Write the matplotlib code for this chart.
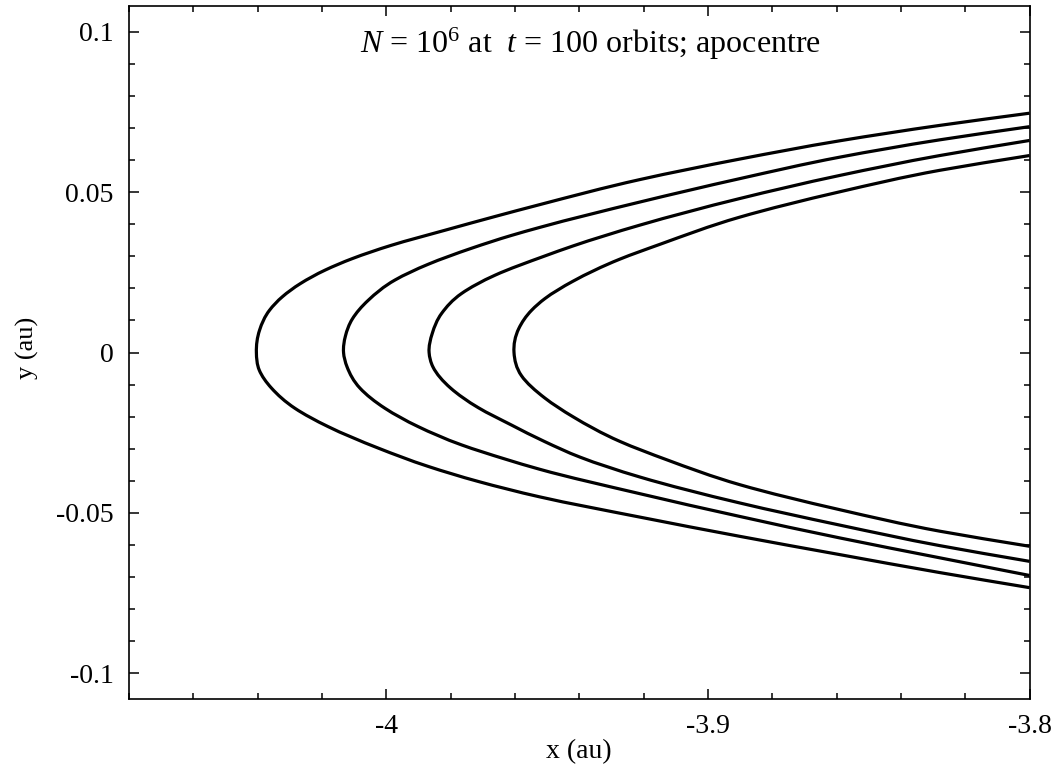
import matplotlib
matplotlib.use("Agg")
import matplotlib.pyplot as plt
from matplotlib.path import Path
from matplotlib.patches import PathPatch
from matplotlib.ticker import MultipleLocator, FuncFormatter

plt.rcParams['font.family'] = ['Liberation Serif', 'DejaVu Serif']
plt.rcParams['mathtext.fontset'] = 'custom'
plt.rcParams['mathtext.rm'] = 'Liberation Serif'
plt.rcParams['mathtext.it'] = 'Liberation Serif:italic'
plt.rcParams['axes.unicode_minus'] = False

# four orbit streams (bottom-right -> apocentre -> top-right)
x1 = [-3.8000, -3.8279, -3.8590, -3.8901, -3.9212, -3.9523, -3.9714, -3.9870, -4.0025, -4.0181,
      -4.0284, -4.0357, -4.0395, -4.0404, -4.0394, -4.0363, -4.0323, -4.0267, -4.0190, -4.0105,
      -3.9985, -3.9818, -3.9662, -3.9523, -3.9212, -3.8901, -3.8590, -3.8279, -3.8000]
y1 = [-0.0733, -0.0686, -0.0630, -0.0573, -0.0513, -0.0450, -0.0402, -0.0355, -0.0298, -0.0231,
      -0.0174, -0.0111, -0.0055, 0.0000, 0.0070, 0.0132, 0.0174, 0.0215, 0.0257, 0.0293,
      0.0334, 0.0381, 0.0424, 0.0461, 0.0539, 0.0603, 0.0660, 0.0708, 0.0746]

x2 = [-3.8000, -3.8279, -3.8590, -3.8901, -3.9212, -3.9523, -3.9631, -3.9766, -3.9901, -4.0004,
      -4.0082, -4.0122, -4.0133, -4.0127, -4.0106, -4.0056, -3.9973, -3.9870, -3.9735, -3.9611,
      -3.9523, -3.9212, -3.8901, -3.8590, -3.8279, -3.8000]
y2 = [-0.0695, -0.0640, -0.0578, -0.0511, -0.0440, -0.0364, -0.0332, -0.0288, -0.0231, -0.0174,
      -0.0111, -0.0045, 0.0000, 0.0052, 0.0104, 0.0163, 0.0226, 0.0275, 0.0325, 0.0365,
      0.0390, 0.0469, 0.0542, 0.0609, 0.0663, 0.0704]

x3 = [-3.8000, -3.8279, -3.8590, -3.8901, -3.9212, -3.9398, -3.9507, -3.9611, -3.9714, -3.9800,
      -3.9855, -3.9867, -3.9857, -3.9828, -3.9766, -3.9662, -3.9507, -3.9420, -3.9212, -3.8901,
      -3.8590, -3.8279, -3.8000]
y3 = [-0.0651, -0.0602, -0.0538, -0.0469, -0.0388, -0.0326, -0.0278, -0.0226, -0.0172, -0.0111,
      -0.0045, 0.0000, 0.0060, 0.0122, 0.0184, 0.0241, 0.0301, 0.0332, 0.0397, 0.0480,
      0.0552, 0.0614, 0.0661]

x4 = [-3.8000, -3.8279, -3.8590, -3.8901, -3.9129, -3.9274, -3.9420, -3.9507, -3.9580, -3.9603,
      -3.9588, -3.9548, -3.9507, -3.9420, -3.9274, -3.9150, -3.8901, -3.8590, -3.8279, -3.8000]
y4 = [-0.0604, -0.0557, -0.0490, -0.0412, -0.0334, -0.0277, -0.0200, -0.0142, -0.0072, 0.0000,
      0.0075, 0.0132, 0.0168, 0.0222, 0.0291, 0.0337, 0.0422, 0.0501, 0.0568, 0.0614]


def smooth_path(xs, ys):
    # piecewise cubic x(y) through the read points, drawn as bezier segments
    n = len(xs)
    d = [(xs[i + 1] - xs[i]) / (ys[i + 1] - ys[i]) for i in range(n - 1)]
    h = [ys[i + 1] - ys[i] for i in range(n - 1)]
    m = [d[0]]
    for i in range(1, n - 1):
        m.append((d[i - 1] * h[i] + d[i] * h[i - 1]) / (h[i - 1] + h[i]))
    m.append(d[-1])
    verts = [(xs[0], ys[0])]
    codes = [Path.MOVETO]
    for i in range(n - 1):
        t = h[i] / 3
        verts += [(xs[i] + m[i] * t, ys[i] + t),
                  (xs[i + 1] - m[i + 1] * t, ys[i + 1] - t),
                  (xs[i + 1], ys[i + 1])]
        codes += [Path.CURVE4] * 3
    return Path(verts, codes)


fig = plt.figure(figsize=(10.55, 7.65), dpi=100)
ax = fig.add_axes([0.1223, 0.0863, 0.8536, 0.9058])

for xs, ys in [(x1, y1), (x2, y2), (x3, y3), (x4, y4)]:
    ax.add_patch(PathPatch(smooth_path(xs, ys), facecolor='none',
                           edgecolor='black', lw=2.3, capstyle='butt'))

ax.set_xlim(-4.08, -3.8)
ax.set_ylim(-0.108, 0.108)

ax.xaxis.set_major_locator(MultipleLocator(0.1))
ax.xaxis.set_minor_locator(MultipleLocator(0.02))
ax.yaxis.set_major_locator(MultipleLocator(0.05))
ax.yaxis.set_minor_locator(MultipleLocator(0.01))
fmt = FuncFormatter(lambda v, p: '%g' % round(v, 6))
ax.xaxis.set_major_formatter(fmt)
ax.yaxis.set_major_formatter(fmt)

ax.tick_params(which='both', direction='in', top=True, right=True, width=1.1,
               labelsize=20, pad=11)
ax.tick_params(which='major', length=7.5)
ax.tick_params(which='minor', length=4)
for s in ax.spines.values():
    s.set_linewidth(1.2)

ax.set_xlabel('x (au)', fontsize=20, labelpad=0)
ax.set_ylabel('y (au)', fontsize=19)
ax.yaxis.set_label_coords(-0.100, 0.506)

ax.text(0.512, 0.945, r'$N$ = 10$^6$ at  $t$ = 100 orbits; apocentre',
        transform=ax.transAxes, ha='center', va='center', fontsize=23)

fig.savefig('out.png', dpi=100)
